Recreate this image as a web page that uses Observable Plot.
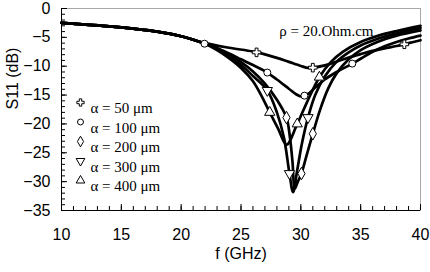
<!DOCTYPE html>
<html><head><meta charset="utf-8">
<script src="https://cdn.jsdelivr.net/npm/d3@7"></script>
<script src="https://cdn.jsdelivr.net/npm/@observablehq/plot@0.6"></script>
<style>body{margin:0;background:#fff}#chart{width:430px;height:272px}</style>
</head><body><div id="chart"></div>
<script>
// ---- data ----
const xTitle = "f (GHz)";
const yTitle = "S11 (dB)";
const annotation = "ρ = 20.Ohm.cm";
const xTickLabels = [10, 15, 20, 25, 30, 35, 40];
const yTickLabels = [0, -5, -10, -15, -20, -25, -30, -35];
const labels = ["α = 50 μm", "α = 100 μm", "α = 200 μm", "α = 300 μm", "α = 400 μm"];

const a50F  = [10,12,14,16,18,20,22,24,26,27,28,29,30,30.6,31,32,33,34,35,36,37,38,39,40];
const a50Db = [-2.5,-2.8,-3.1,-3.5,-4.0,-4.8,-6.0,-6.8,-7.45,-7.95,-8.55,-9.25,-9.95,-10.3,-10.25,-9.85,-9.2,-8.5,-7.9,-7.35,-6.9,-6.5,-6.0,-5.5];
const m50F  = [26.3, 31.0, 38.65];
const m50Db = [-7.6, -10.25, -6.2];

const a100F  = [10,12,14,16,18,20,22,23,24,25,26,27,28,29,29.6,30.1,30.6,31.2,32,33,34.3,35,36,37,38,39,40];
const a100Db = [-2.5,-2.8,-3.1,-3.5,-4.0,-4.8,-6.1,-6.9,-7.8,-8.8,-9.8,-10.85,-12.3,-13.9,-14.85,-15.25,-14.8,-13.7,-12.3,-11.0,-9.55,-8.7,-7.5,-6.55,-5.8,-5.2,-4.7];
const m100F  = [21.95, 27.2, 30.3, 34.3];
const m100Db = [-6.1, -11.1, -15.1, -9.55];

const a200F  = [10,12,14,16,18,20,22,23,24,25,26,27,28,28.8,29.1,29.3,29.5,29.75,30.05,30.5,31,31.6,32.3,33,34,35,36.5,38,40];
const a200Db = [-2.5,-2.8,-3.1,-3.5,-4.0,-4.8,-6.1,-6.9,-8.0,-9.3,-10.9,-13.0,-15.8,-18.9,-22.5,-26.5,-31.2,-30.0,-28.6,-25.3,-21.7,-17.6,-13.8,-11.2,-8.8,-7.2,-5.7,-4.7,-3.8];
const m200F  = [28.8, 30.05, 31.0];
const m200Db = [-18.9, -28.6, -21.7];

const a300F  = [10,12,14,16,18,20,22,23,24,25,26,27.2,28,28.6,29.05,29.35,29.7,30.1,30.6,31.2,32,33,34,35,36.5,38,40];
const a300Db = [-2.5,-2.8,-3.1,-3.5,-4.0,-4.8,-6.1,-7.0,-8.3,-9.8,-11.7,-14.2,-18.0,-22.5,-28.6,-31.8,-28.0,-23.3,-18.9,-15.0,-11.8,-9.2,-7.6,-6.4,-5.2,-4.3,-3.4];
const m300F  = [27.2, 29.05, 30.6];
const m300Db = [-14.2, -28.6, -18.9];

const a400F  = [10,12,14,16,18,20,22,23,24,25,26,26.7,27.4,28.1,28.8,29.7,30.5,31.55,32.5,33.5,35,36.5,38,40];
const a400Db = [-2.5,-2.8,-3.1,-3.5,-4.0,-4.8,-6.1,-7.2,-8.6,-10.3,-12.6,-15.1,-18.0,-20.8,-23.6,-20.0,-16.3,-11.9,-9.3,-7.5,-5.8,-4.7,-3.9,-3.0];
const m400F  = [27.4, 29.7, 31.55];
const m400Db = [-18.0, -20.0, -11.9];

// ---- build ----
const series = [
  {label: labels[0], f: a50F,  db: a50Db,  mf: m50F,  mdb: m50Db,  symbol: "cross",    rotate: 0,   r: 3.6},
  {label: labels[1], f: a100F, db: a100Db, mf: m100F, mdb: m100Db, symbol: "circle",   rotate: 0,   r: 3.5},
  {label: labels[2], f: a200F, db: a200Db, mf: m200F, mdb: m200Db, symbol: "diamond",  rotate: 0,   r: 3.8},
  {label: labels[3], f: a300F, db: a300Db, mf: m300F, mdb: m300Db, symbol: "triangle", rotate: 180, r: 3.8},
  {label: labels[4], f: a400F, db: a400Db, mf: m400F, mdb: m400Db, symbol: "triangle", rotate: 0,   r: 3.8}
];

const W = 430, H = 272, mL = 61, mR = 10, mT = 8, mB = 62;
const xDom = [10, 40], yDom = [-35, 0];
const fw = W - mL - mR, fh = H - mT - mB;
const pxX = (xDom[1] - xDom[0]) / fw;   // data units per pixel
const pxY = (yDom[1] - yDom[0]) / fh;
const serif = "Liberation Serif, Times New Roman, serif";
const minorX = d3.range(10, 41, 1), minorY = d3.range(-35, 1, 1);
const marks = [
  Plot.frame({stroke: "#a8a8a8", strokeWidth: 1}),
  // inward ticks
  Plot.ruleX(minorX, {x: d => d, y1: yDom[0], y2: yDom[0] + 4 * pxY, stroke: "black"}),
  Plot.ruleX(xTickLabels, {x: d => d, y1: yDom[0], y2: yDom[0] + 6 * pxY, stroke: "black"}),
  Plot.ruleY(minorY, {y: d => d, x1: xDom[0], x2: xDom[0] + 4 * pxX, stroke: "black"}),
  Plot.ruleY(yTickLabels, {y: d => d, x1: xDom[0], x2: xDom[0] + 6 * pxX, stroke: "black"}),
  // labels
  Plot.axisX({ticks: xTickLabels, tickSize: 0, tickPadding: 18, label: null, fontSize: 16}),
  Plot.axisY({ticks: yTickLabels, tickSize: 0, tickPadding: 11, label: null, fontSize: 16}),
  Plot.ruleX([10], {stroke: "black"}),
  Plot.ruleY([-35], {stroke: "black"}),
  Plot.text([yTitle], {frameAnchor: "left", rotate: -90, dx: -49, fontSize: 16}),
  Plot.text([xTitle], {frameAnchor: "bottom", dy: 48, fontSize: 16}),
  Plot.text([annotation], {frameAnchor: "top-right", textAnchor: "end", dx: -47, dy: 17, fontSize: 15, fontFamily: serif})
];

series.forEach((s) => {
  const pts = s.f.map((f, k) => ({f, db: s.db[k]}));
  marks.push(Plot.line(pts, {x: "f", y: "db", curve: "catmull-rom", stroke: "black", strokeWidth: 2.7}));
});
series.forEach((s, i) => {
  const mk = s.mf.map((f, k) => ({f, db: s.mdb[k]}));
  marks.push(Plot.dot(mk, {x: "f", y: "db", symbol: s.symbol, r: s.r, rotate: s.rotate, fill: "white", stroke: "black", strokeWidth: 1}));
  marks.push(Plot.dot([s.label], {frameAnchor: "top-left", dx: 19, dy: 94 + i * 19.5, symbol: s.symbol, r: s.r * 0.85, rotate: s.rotate, fill: "white", stroke: "black", strokeWidth: 1}));
  marks.push(Plot.text([s.label], {frameAnchor: "top-left", dx: 29, dy: 94 + i * 19.5, textAnchor: "start", fontSize: 15, fontFamily: serif}));
});

const chart = Plot.plot({
  width: W, height: H,
  marginLeft: mL, marginRight: mR, marginTop: mT, marginBottom: mB,
  x: {domain: xDom},
  y: {domain: yDom},
  style: {fontFamily: "Liberation Sans, Arial, sans-serif", fontSize: "16px", background: "white", color: "black", overflow: "visible"},
  marks
});
document.getElementById("chart").appendChild(chart);
</script>
</body></html>
